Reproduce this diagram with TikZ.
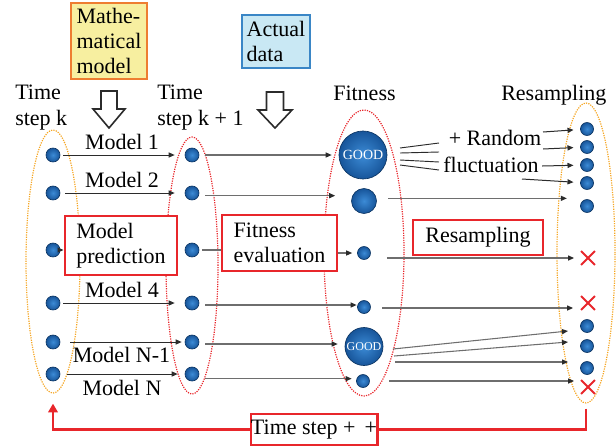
\documentclass[tikz,border=0pt]{standalone}
\usepackage{fontspec}
\setmainfont{Liberation Serif}
\usetikzlibrary{arrows.meta,shapes.geometric,shapes.misc}
\definecolor{dotblue}{HTML}{17559A}
\definecolor{dotlight}{HTML}{3C8BD6}
\definecolor{dotdark}{HTML}{0C3563}
\definecolor{boxred}{HTML}{E8262B}
\definecolor{ellorange}{HTML}{F5A623}
\definecolor{ellred}{HTML}{E8262B}
\definecolor{yelfill}{HTML}{F7EFA0}
\definecolor{orgborder}{HTML}{EE7D31}
\definecolor{bluefill}{HTML}{C9E8F4}
\definecolor{blueborder}{HTML}{3A86C6}
\definecolor{darkline}{HTML}{2B2B2B}
\definecolor{grayline}{HTML}{6E6E6E}
\begin{document}
\begin{tikzpicture}[x=0.75pt,y=-0.75pt,
  every node/.style={font=\fontsize{16.5}{19}\selectfont},
  lbl/.style={inner sep=0pt, align=left},
  bdot/.style={circle, inner sep=0pt, minimum size=#1, draw=dotdark, line width=0.5pt, inner color=dotlight, outer color=dotblue},
  good/.style={bdot=#1, text=white, font=\fontsize{10.5}{12}\selectfont},
  xmark/.style={cross out, draw=boxred, line width=1.4pt, inner sep=0pt, minimum size=9pt},
  dotell/.style={ellipse, inner sep=0pt, line width=0.9pt, dash pattern=on 0.9pt off 0.9pt},
  redbox/.style={draw=boxred, line width=2.2pt, fill=white, inner sep=0pt, align=left},
  darr/.style={draw=darkline, line width=0.75pt, -{Triangle[length=4.5pt,width=3.8pt]}},
  garr/.style={draw=grayline, line width=0.8pt, -{Triangle[length=4.5pt,width=3.8pt,color=darkline]}},
  gline/.style={draw=grayline, line width=0.8pt},
  hollow/.style={draw=darkline, line width=1.2pt, fill=white, line join=miter},
  fb/.style={draw=boxred, line width=2.2pt},
]
\useasboundingbox (0,0) rectangle (616,447);

% top boxes
\node[draw=orgborder, fill=yelfill, line width=1.2pt, inner sep=0pt, align=left,
      minimum width=57pt, minimum height=57pt] (mm) at (109,41) {Mathe-\\matical\\model};
\node[draw=blueborder, fill=bluefill, line width=1.2pt, inner sep=0pt, align=left,
      minimum width=51pt, minimum height=39.75pt] (ad) at (276,41.5) {Actual\\data};

% hollow arrows
\draw[hollow] (101,91) -- (117,91) -- (117,109) -- (125,109) -- (109,128) -- (93,109) -- (101,109) -- cycle;
\draw[hollow] (266.5,92) -- (283.5,92) -- (283.5,110) -- (292,110) -- (275,128) -- (258,110) -- (266.5,110) -- cycle;

% column labels
\node[lbl, anchor=north west] (lk) at (15,85) {Time\\step k};
\node[lbl, anchor=north west] (lk1) at (157,85) {Time\\step k + 1};
\node[lbl, anchor=base west] (lfit) at (333,100) {Fitness};
\node[lbl, anchor=base west] (lres) at (501,100) {Resampling};

% ellipses
\node[dotell, draw=ellorange, minimum width=40.5pt, minimum height=197.25pt] (e1) at (53,261.5) {};
\node[dotell, draw=ellred, minimum width=39pt, minimum height=192.75pt] (e2) at (192,265.5) {};
\node[dotell, draw=ellred, minimum width=60pt, minimum height=214.5pt] (e3) at (364,253) {};
\node[dotell, draw=ellorange, minimum width=43.5pt, minimum height=225pt] (e4) at (586,253) {};

% red boxes
\node[redbox, minimum width=84pt, minimum height=44.25pt] (mp) at (121,245.5) {Model\\prediction};
\node[redbox, minimum width=86.25pt, minimum height=42pt] (fe) at (279.5,243) {Fitness\\evaluation};
\node[redbox, minimum width=97.5pt, minimum height=26.25pt] (rs) at (478,237.5) {Resampling};
\node[redbox, minimum width=94.5pt, minimum height=23.25pt] (ts) at (314,429.5) {Time step + \,+};

% column 1 dots
\foreach \i/\y in {1/155,2/193,3/250,4/303,5/342,6/374}{
  \node[bdot=10.5pt] (a\i) at (53,\y) {};
  \node[bdot=10.5pt] (b\i) at (192,\y) {};
}

% fitness column
\node[good=36pt] (f1) at (363,155) {GOOD};
\node[bdot=18.75pt] (f2) at (364,201) {};
\node[bdot=9.75pt] (f3) at (364,253) {};
\node[bdot=9.75pt] (f4) at (364,307) {};
\node[good=28.5pt, font=\fontsize{9}{10}\selectfont] (f5) at (364,346.5) {GOOD};
\node[bdot=9.75pt] (f6) at (363,381) {};

% resampling column
\node[bdot=9.75pt] (r1) at (587,129) {};
\node[bdot=9.75pt] (r2) at (587,147) {};
\node[bdot=9.75pt] (r3) at (587,165) {};
\node[bdot=9.75pt] (r4) at (587,183) {};
\node[bdot=9.75pt] (r5) at (587,206) {};
\node[xmark] (x1) at (588,258) {};
\node[xmark] (x2) at (588,303) {};
\node[bdot=9.75pt] (r6) at (587,326) {};
\node[bdot=9.75pt] (r7) at (587,346) {};
\node[bdot=9.75pt] (r8) at (587,368) {};
\node[xmark] (x3) at (588,387) {};

% model labels
\node[lbl, anchor=base] (m1) at (122,149) {Model 1};
\node[lbl, anchor=base] (m2) at (122,187) {Model 2};
\node[lbl, anchor=base] (m4) at (122,297) {Model 4};
\node[lbl, anchor=base] (m5) at (121.5,362) {Model N-1};
\node[lbl, anchor=base] (m6) at (122,395) {Model N};

% random fluctuation text
\node[lbl, anchor=base] (rnd) at (495,145) {+ Random};
\node[lbl, anchor=base] (flu) at (491,172) {fluctuation};

% column 1 -> column 2
\draw[darr, shorten <=2.25pt, shorten >=7.5pt] (a1) -- (b1);
\draw[darr, shorten <=3.75pt, shorten >=7.5pt] (a2) -- (b2);
\draw[darr] (a3.east) -- (a3.east -| mp.west);
\draw[darr, shorten <=2.25pt, shorten >=7.5pt] (a4) -- (b4);
\draw[darr, shorten <=7.5pt, shorten >=2.25pt] (a5) -- (b5);
\draw[darr, shorten <=5.25pt, shorten >=5.25pt] (a6) -- (b6);

% column 2 -> fitness
\draw[garr, shorten <=4.5pt, shorten >=5.25pt] (b1) -- (f1);
\draw[garr, shorten <=4.5pt, shorten >=12pt] ([yshift=-2pt]b2.east) -- ([yshift=-2pt]b2.east -| f2.west);
\draw[gline, shorten <=2.25pt] (b3.east) -- (b3.east -| fe.west);
\draw[garr, shorten >=3.75pt] (f3.west -| fe.east) -- (f3.west);
\draw[garr, shorten <=4.5pt, shorten >=0.4pt] ([yshift=-1.5pt]b4.east) -- ([yshift=-1.5pt]b4.east -| f4.west);
\draw[garr, shorten <=4.5pt, shorten >=5.25pt] ([yshift=-1.5pt]b5.east) -- ([yshift=-1.5pt]b5.east -| f5.west);
\draw[garr, shorten <=4.5pt, shorten >=3.4pt] ([yshift=-3.5pt]b6.east) -- ([yshift=-3.5pt]b6.east -| f6.west);

% fitness -> resampling
\coordinate (fa1) at (400,148); \coordinate (fb1) at (439,143);
\coordinate (fa2) at (400,153); \coordinate (fb2) at (439,152);
\coordinate (fa3) at (400,160); \coordinate (fb3) at (439,162);
\coordinate (fa4) at (400,165); \coordinate (fb4) at (439,170);
\draw[gline, draw=darkline, line width=0.7pt] (fa1) -- (fb1);
\draw[gline, draw=darkline, line width=0.7pt] (fa2) -- (fb2);
\draw[gline, draw=darkline, line width=0.7pt] (fa3) -- (fb3);
\draw[gline, draw=darkline, line width=0.7pt] (fa4) -- (fb4);
\coordinate (ra1) at (543,132);
\coordinate (ra2) at (543,149);
\coordinate (ra3) at (542,166);
\coordinate (ra4) at (522,179);
\draw[darr, shorten >=5pt] (ra1) -- (r1);
\draw[darr, shorten >=5pt] (ra2) -- (r2);
\draw[darr, shorten >=5pt] (ra3) -- (r3);
\draw[darr, shorten >=5pt] (ra4) -- (r4);

\draw[garr, shorten <=8.6pt, shorten >=10pt] ([yshift=2pt]f2.east) -- ([yshift=2pt]f2.east -| r5.west);
\draw[garr, shorten <=12pt, shorten >=5.25pt] (x1.west -| f3.east) -- (x1.west);
\draw[garr, shorten <=8.6pt, shorten >=6pt] ([yshift=-0.75pt]f4.east) -- ([yshift=-0.75pt]f4.east -| x2.west);

\coordinate (gs1) at (393,349); \coordinate (ge1) at (568,331);
\coordinate (gs2) at (394,356); \coordinate (ge2) at (568,342);
\coordinate (gs3) at (395,362); \coordinate (ge3) at (568,362);
\draw[garr] (gs1) -- (ge1);
\draw[garr] (gs2) -- (ge2);
\draw[garr] (gs3) -- (ge3);
\draw[garr, shorten <=14.6pt, shorten >=5.25pt] (f6.east) -- (f6.east -| x3.west);

% feedback loop
\draw[fb] ([yshift=-3.75pt]e4.south) |- (ts.east);
\draw[fb, -{Triangle[length=6.5pt,width=7pt]}] (ts.west) -| ([yshift=-7.5pt]e1.south);
\end{tikzpicture}
\end{document}
